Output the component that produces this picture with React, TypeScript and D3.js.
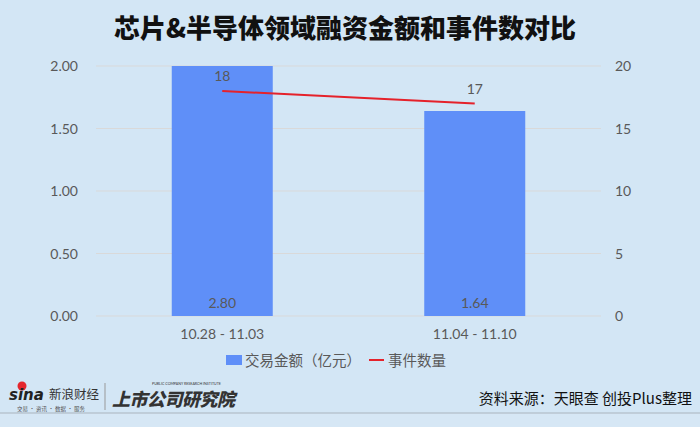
import React from "react";
import * as d3 from "d3";

const categories = ["10.28 - 11.03", "11.04 - 11.10"];
const amounts = [2.8, 1.64];
const counts = [18, 17];
const leftTicks = [0, 0.5, 1, 1.5, 2];
const rightTicks = [0, 5, 10, 15, 20];
const title = "芯片&半导体领域融资金额和事件数对比";
const legendBar = "交易金额（亿元）";
const legendLine = "事件数量";
const sourceText = "资料来源：天眼查 创投Plus整理";

const W = 700;
const H = 427;
const BG = "#d3e6f5";
const BAR = "#5f8ff8";
const LINE = "#e5222b";
const TXT = "#595959";
const CJK = "'Noto Sans CJK SC', sans-serif";
const NUM = "Lato, 'Open Sans', sans-serif";

export default function App() {
  const plot = { left: 96, right: 601, top: 66, bottom: 316 };
  const x = d3.scaleBand<string>().domain(categories).range([plot.left, plot.right]).paddingInner(0.6).paddingOuter(0.3);
  const yL = d3.scaleLinear().domain([0, 2]).range([plot.bottom, plot.top]).clamp(true);
  const yR = d3.scaleLinear().domain([0, 20]).range([plot.bottom, plot.top]);
  const cx = (c: string) => (x(c) as number) + x.bandwidth() / 2;
  const line = d3
    .line<number>()
    .x((_, i) => cx(categories[i]))
    .y((d) => yR(d));

  return (
    <svg width={W} height={H} style={{ position: "absolute", left: 0, top: 0 }}>
      <rect x={0} y={0} width={W} height={H} fill={BG} />
      <text x={345} y={38} textAnchor="middle" fontFamily={CJK} fontWeight={900} fontSize={26} fill="#111">
        {title}
      </text>
      {leftTicks.map((t) => (
        <g key={"g" + t}>
          <line x1={plot.left} x2={plot.right} y1={yL(t)} y2={yL(t)} stroke="#d9d9d9" strokeWidth={1} />
          <text x={78} y={yL(t) + 5} textAnchor="end" fontFamily={NUM} fontSize={14} fill={TXT}>
            {d3.format(".2f")(t)}
          </text>
        </g>
      ))}
      {rightTicks.map((t) => (
        <text key={"r" + t} x={615} y={yR(t) + 5} textAnchor="start" fontFamily={NUM} fontSize={14} fill={TXT}>
          {t}
        </text>
      ))}
      {categories.map((c, i) => (
        <g key={c}>
          <rect
            x={x(c)}
            y={yL(amounts[i])}
            width={x.bandwidth()}
            height={plot.bottom - yL(amounts[i])}
            fill={BAR}
          />
          <text x={cx(c)} y={plot.bottom - 8} textAnchor="middle" fontFamily={NUM} fontSize={14} fill={TXT}>
            {d3.format(".2f")(amounts[i])}
          </text>
          <text x={cx(c)} y={339} textAnchor="middle" fontFamily={NUM} fontSize={14} fill={TXT}>
            {c}
          </text>
        </g>
      ))}
      <path d={line(counts) || ""} fill="none" stroke={LINE} strokeWidth={2} />
      {counts.map((v, i) => (
        <text key={"c" + i} x={cx(categories[i])} y={yR(v) - 10} textAnchor="middle" fontFamily={NUM} fontSize={14} fill={TXT}>
          {v}
        </text>
      ))}
      {/* legend */}
      <rect x={226} y={355} width={16} height={10} fill={BAR} />
      <text x={245} y={366} fontFamily={CJK} fontSize={14.5} fill={TXT}>
        {legendBar}
      </text>
      <line x1={369} x2={384} y1={360} y2={360} stroke={LINE} strokeWidth={2} />
      <text x={388} y={366} fontFamily={CJK} fontSize={14.5} fill={TXT}>
        {legendLine}
      </text>
      {/* footer */}
      <rect x={0} y={413} width={W} height={14} fill="#d6e7f5" />
      <line x1={0} x2={W} y1={413} y2={413} stroke="#a9b4bd" strokeWidth={1.2} />
      <circle cx={22} cy={386} r={4.5} fill="#e4262d" />
      <text x={9} y={400} fontFamily="'DejaVu Sans', sans-serif" fontStyle="italic" fontWeight={700} fontSize={15} fill="#222">
        sina
      </text>
      <text x={49} y={399} fontFamily={CJK} fontSize={12.5} fill="#333">
        新浪财经
      </text>
      <text x={17} y={411} fontFamily={CJK} fontSize={5.5} fill="#555">
        交易 · 资讯 · 数据 · 服务
      </text>
      <line x1={105} x2={105} y1={383} y2={410} stroke="#999" strokeWidth={1} />
      <text x={152} y={385} fontFamily={NUM} fontSize={3.6} fill="#333">
        PUBLIC COMPANY RESEARCH INSTITUTE
      </text>
      <text x={112} y={406} fontFamily={CJK} fontStyle="italic" fontWeight={900} fontSize={18} fill="#333" letterSpacing={-0.5}>
        上市公司研究院
      </text>
      <text x={692} y={404} textAnchor="end" fontFamily={CJK} fontSize={15} fill="#111">
        {sourceText}
      </text>
    </svg>
  );
}
